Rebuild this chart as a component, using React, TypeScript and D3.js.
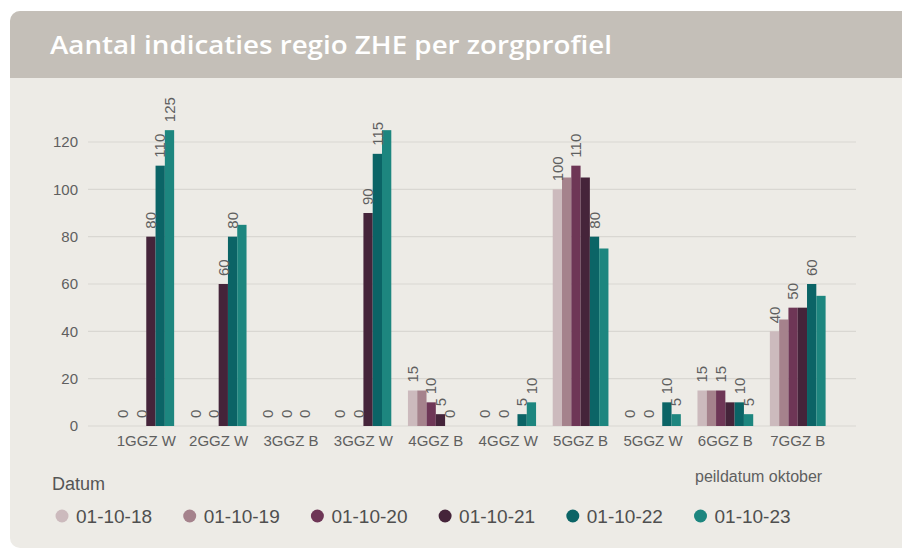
import React from 'react';
import * as d3 from 'd3';

// zorgprofielen (x axis)
const categories = ['1GGZ W', '2GGZ W', '3GGZ B', '3GGZ W', '4GGZ B', '4GGZ W', '5GGZ B', '5GGZ W', '6GGZ B', '7GGZ B'];
const dates = ['01-10-18', '01-10-19', '01-10-20', '01-10-21', '01-10-22', '01-10-23'];

// values per peildatum, one entry per category
const v18 = [0, 0, 0, 0, 15, 0, 100, 0, 15, 40];
const v19 = [0, 0, 0, 0, 15, 0, 105, 0, 15, 45];
const v20 = [0, 0, 0, 0, 10, 0, 110, 0, 15, 50];
const v21 = [80, 60, 0, 90, 5, 0, 105, 0, 10, 50];
const v22 = [110, 80, 0, 115, 0, 5, 80, 10, 10, 60];
const v23 = [125, 85, 0, 125, 0, 10, 75, 5, 5, 55];
const seriesValues = [v18, v19, v20, v21, v22, v23];

// which series show a data label in each category (others hidden by overlap)
const shownLabels = [
  [0, 2, 3, 4, 5],
  [0, 2, 3, 4],
  [0, 2, 4],
  [0, 2, 3, 4],
  [0, 2, 3, 4],
  [0, 2, 4, 5],
  [0, 2, 4],
  [0, 2, 4, 5],
  [0, 2, 4, 5],
  [0, 2, 4],
];

const yTicks = [0, 20, 40, 60, 80, 100, 120];

const colors = ['#ccbabd', '#a5828c', '#6e3656', '#45243a', '#0b6466', '#1d867f'];

const W = 902;
const H = 554;
const font = '"Liberation Sans", Arial, sans-serif';
const textCol = '#5f5f5f';

export default function App() {
  const x0 = d3.scaleBand<string>()
    .domain(categories)
    .range([88, 856])
    .paddingInner(0.23)
    .paddingOuter(0.42);

  const x1 = d3.scaleBand<number>()
    .domain(d3.range(dates.length))
    .range([0, x0.bandwidth()]);

  const y = d3.scaleLinear().domain([0, 120]).range([426, 142]);

  return (
    <svg width={W} height={H} style={{ position: 'absolute', left: 0, top: 0, display: 'block' }}>
      <rect x={0} y={0} width={W} height={H} fill="#ffffff" />
      {/* card */}
      <rect x={10} y={11} width={W + 20} height={537} rx={10} fill="#edebe6" />
      <path d={`M10,78 V21 A10,10 0 0 1 20,11 H${W} V78 Z`} fill="#c4bfb8" />
      <text x={50} y={54} fill="#ffffff" fontFamily="'Open Sans', Lato, sans-serif" fontWeight={600} fontSize={26}
        textLength={562} lengthAdjust="spacingAndGlyphs">
        Aantal indicaties regio ZHE per zorgprofiel
      </text>

      {/* grid + y axis */}
      {yTicks.map(t => (
        <g key={t}>
          <line x1={88} x2={856} y1={y(t)} y2={y(t)} stroke="#d9d7d2" strokeWidth={1.2} />
          <text x={78} y={y(t)} dy="0.35em" textAnchor="end" fontFamily={font} fontSize={15} fill={textCol}>{t}</text>
        </g>
      ))}

      {/* bars */}
      {categories.map((c, ci) => (
        <g key={c} transform={`translate(${x0(c)},0)`}>
          {seriesValues.map((vals, si) => (
            <rect key={si} x={x1(si)} width={x1.bandwidth()} y={y(vals[ci])}
              height={y(0) - y(vals[ci])} fill={colors[si]} />
          ))}
          {shownLabels[ci].map(si => {
            const cx = (x1(si) ?? 0) + x1.bandwidth() / 2;
            const top = y(seriesValues[si][ci]) - 8;
            return (
              <text key={'l' + si} transform={`translate(${cx},${top}) rotate(-90)`}
                dy="0.35em" textAnchor="start" fontFamily={font} fontSize={15} fill={textCol}>
                {seriesValues[si][ci]}
              </text>
            );
          })}
          <text x={x0.bandwidth() / 2} y={446} textAnchor="middle" fontFamily={font} fontSize={15} fill={textCol}>{c}</text>
        </g>
      ))}

      {/* legend */}
      <text x={695} y={482} fontFamily={font} fontSize={16} fill={textCol}>peildatum oktober</text>
      <text x={52} y={490} fontFamily={font} fontSize={18} fill="#555">Datum</text>
      {dates.map((d, i) => {
        const cx = 62 + i * 127.7;
        return (
          <g key={d}>
            <circle cx={cx} cy={516} r={6.5} fill={colors[i]} />
            <text x={cx + 14} y={523} fontFamily={font} fontSize={19} fill="#4f4f4f">{d}</text>
          </g>
        );
      })}
    </svg>
  );
}
